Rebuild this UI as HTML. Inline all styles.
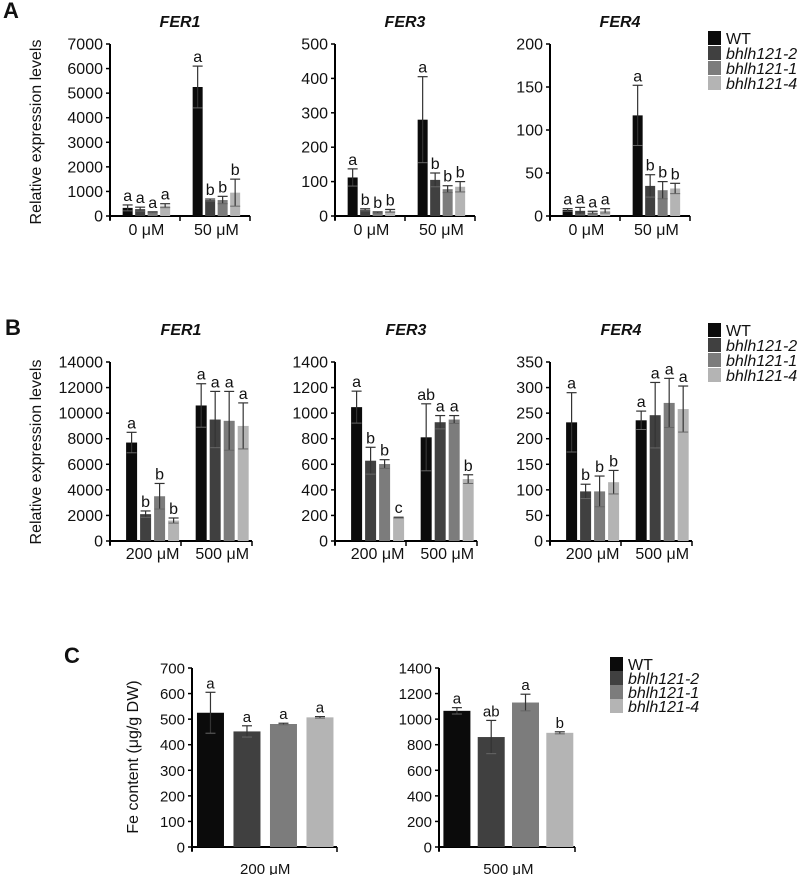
<!DOCTYPE html>
<html><head><meta charset="utf-8"><style>
html,body{margin:0;padding:0;background:#fff;}
svg{display:block;font-family:"Liberation Sans",Arial,sans-serif;}
</style></head><body>
<svg id="fig" width="800" height="875" viewBox="0 0 800 875" xmlns="http://www.w3.org/2000/svg"></svg>
<script>
// ---- data ----
const genotypes = ['WT','bhlh121-2','bhlh121-1','bhlh121-4'];
const colors = ['#0b0b0b','#404040','#7c7c7c','#b4b4b4'];
const groupsA = ['0 μM','50 μM'];
const groupsB = ['200 μM','500 μM'];
const groupsC1 = ['200 μM'];
const groupsC2 = ['500 μM'];

const aFer1Vals = [[330,280,150,420],[5250,650,650,950]];
const aFer1Err  = [[120,80,20,80],[850,40,150,550]];
const aFer1Let  = [['a','a','a','a'],['a','b','b','b']];
const aFer1Ticks = [0,1000,2000,3000,4000,5000,6000,7000];

const aFer3Vals = [[112,18,10,15],[280,105,78,85]];
const aFer3Err  = [[25,3,2,4],[125,20,10,15]];
const aFer3Let  = [['a','b','b','b'],['a','b','b','b']];
const aFer3Ticks = [0,100,200,300,400,500];

const aFer4Vals = [[7,6,4,6],[117,35,30,32]];
const aFer4Err  = [[1.5,4,1.5,2.5],[35,13,10,6]];
const aFer4Let  = [['a','a','a','a'],['a','b','b','b']];
const aFer4Ticks = [0,50,100,150,200];

const bFer1Vals = [[7700,2100,3500,1600],[10600,9500,9400,9000]];
const bFer1Err  = [[800,250,1000,200],[1700,2200,2300,1800]];
const bFer1Let  = [['a','b','b','b'],['a','a','a','a']];
const bFer1Ticks = [0,2000,4000,6000,8000,10000,12000,14000];

const bFer3Vals = [[1047,628,602,183],[811,929,950,484]];
const bFer3Err  = [[125,105,34,3],[262,52,31,34]];
const bFer3Let  = [['a','b','b','c'],['ab','a','a','b']];
const bFer3Ticks = [0,200,400,600,800,1000,1200,1400];

const bFer4Vals = [[232,97,97,115],[236,246,270,258]];
const bFer4Err  = [[58,14,30,23],[18,64,48,45]];
const bFer4Let  = [['a','b','b','b'],['a','a','a','a']];
const bFer4Ticks = [0,50,100,150,200,250,300,350];

const c200Vals = [[525,452,481,507]];
const c200Err  = [[80,22,3,3]];
const c200Let  = [['a','a','a','a']];
const c200Ticks = [0,100,200,300,400,500,600,700];

const c500Vals = [[1065,860,1130,893]];
const c500Err  = [[25,130,65,8]];
const c500Let  = [['a','ab','a','b']];
const c500Ticks = [0,200,400,600,800,1000,1200,1400];

// ---- drawing ----
const NS='http://www.w3.org/2000/svg';
const svg=document.getElementById('fig');
function mk(tag,attrs,parent){const e=document.createElementNS(NS,tag);for(const k in attrs)e.setAttribute(k,attrs[k]);(parent||svg).appendChild(e);return e;}
function txt(s,attrs,parent){const e=mk('text',attrs,parent);e.textContent=s;return e;}

function chart(cfg,name){
  const g=mk('g',{});
  
  
  const fs=cfg.fs||16;
  const max=cfg.ticks[cfg.ticks.length-1];
  const y=v=>cfg.base-(v/max)*(cfg.base-cfg.top);
  const x0=cfg.ax, x1=cfg.ax+cfg.w;
  const ya=mk('line',{x1:x0,y1:cfg.top,x2:x0,y2:cfg.base+4,stroke:'#000','stroke-width':2},g);
  
  
  cfg.ticks.forEach(t=>{
    mk('line',{x1:x0-4,y1:y(t),x2:x0,y2:y(t),stroke:'#000','stroke-width':1.5},g);
    const tl=txt(String(t),{x:x0-7,y:y(t)+5.5,'text-anchor':'end','font-size':fs,fill:'#111'},g);
    
    
  });
  const xa=mk('line',{x1:x0,y1:cfg.base,x2:x1,y2:cfg.base,stroke:'#000','stroke-width':2},g);
  
  
  const ng=cfg.groups.length;
  for(let k=0;k<=ng;k++){
    const tx=x0+cfg.w*k/ng;
    mk('line',{x1:tx,y1:cfg.base,x2:tx,y2:cfg.base+5,stroke:'#000','stroke-width':1.5},g);
  }
  cfg.groups.forEach((gl,gi)=>{
    const cx=x0+cfg.w*cfg.centers[gi];
    const lab=txt(gl,{x:cx,y:cfg.lblY,'text-anchor':'middle','font-size':fs,fill:'#111'},g);
    
    
    cfg.vals[gi].forEach((v,i)=>{
      const bx=cx+(i-1.5)*cfg.step-cfg.bw/2;
      const r=mk('rect',{x:bx,y:y(v),width:cfg.bw,height:cfg.base-y(v),fill:colors[i]},g);
      
      
      const e=cfg.err[gi][i];
      const bc=bx+cfg.bw/2, hw=Math.min(5,cfg.bw/2);
      mk('line',{x1:bc,y1:y(v+e),x2:bc,y2:y(Math.max(0,v-e)),stroke:'#333','stroke-width':1.2},g);
      mk('line',{x1:bc-hw,y1:y(v+e),x2:bc+hw,y2:y(v+e),stroke:'#333','stroke-width':1.2},g);
      mk('line',{x1:bc-hw,y1:y(Math.max(0,v-e)),x2:bc+hw,y2:y(Math.max(0,v-e)),stroke:'#666','stroke-width':1},g);
      const lt=txt(cfg.lets[gi][i],{x:bc,y:y(v+e)-4,'text-anchor':'middle','font-size':fs,fill:'#111'},g);
      
      
    });
  });
  if(cfg.title){
    const t=txt(cfg.title,{x:x0+cfg.w/2,y:cfg.titleY,'text-anchor':'middle','font-size':16,'font-weight':'bold','font-style':'italic',fill:'#111'},g);
    
    
  }
}
function legend(x,y0,dy,name){
  const g=mk('g',{});
  
  
  genotypes.forEach((gn,i)=>{
    const cy=y0+i*dy;
    mk('rect',{x:x,y:cy-7,width:13,height:14,fill:colors[i]},g);
    const t=txt(gn,{x:x+18,y:cy+6,'font-size':16,'font-style':i?'italic':'normal',fill:'#111'},g);
    
    
  });
}
function label(s,x,y,size){const t=txt(s,{x:x,y:y,'font-size':size,'font-weight':'bold',fill:'#111'});}
function ylab(s,x,cy,name,fs){const t=txt(s,{x:x,y:cy,'text-anchor':'middle','font-size':fs||16,fill:'#111',transform:'rotate(-90 '+x+' '+cy+')'});}

const A={top:44,base:216,w:140,bw:10,step:12.5,centers:[0.26,0.76],groups:groupsA,lblY:235,titleY:27};
chart(Object.assign({},A,{ax:110,title:'FER1',ticks:aFer1Ticks,vals:aFer1Vals,err:aFer1Err,lets:aFer1Let}),'chart-a-fer1');
chart(Object.assign({},A,{ax:335,title:'FER3',ticks:aFer3Ticks,vals:aFer3Vals,err:aFer3Err,lets:aFer3Let}),'chart-a-fer3');
chart(Object.assign({},A,{ax:550,title:'FER4',ticks:aFer4Ticks,vals:aFer4Vals,err:aFer4Err,lets:aFer4Let}),'chart-a-fer4');
legend(708,38,15,'legend-a');
label('A',3,18,22);
ylab('Relative expression levels',41,132,'y-axis-title-a');

const B={top:362,base:541,w:142,bw:11,step:14,centers:[0.3,0.79],groups:groupsB,lblY:559,titleY:335};
chart(Object.assign({},B,{ax:110,title:'FER1',ticks:bFer1Ticks,vals:bFer1Vals,err:bFer1Err,lets:bFer1Let}),'chart-b-fer1');
chart(Object.assign({},B,{ax:335,title:'FER3',ticks:bFer3Ticks,vals:bFer3Vals,err:bFer3Err,lets:bFer3Let}),'chart-b-fer3');
chart(Object.assign({},B,{ax:550,title:'FER4',ticks:bFer4Ticks,vals:bFer4Vals,err:bFer4Err,lets:bFer4Let}),'chart-b-fer4');
legend(708,330,15,'legend-b');
label('B',5,335,22);
ylab('Relative expression levels',41,452,'y-axis-title-b');

chart({ax:192,w:145,top:668,base:847,bw:27,step:36.5,centers:[0.505],groups:groupsC1,lblY:874,ticks:c200Ticks,vals:c200Vals,err:c200Err,lets:c200Let,fs:15},'chart-c-200');
chart({ax:439,w:136,top:668,base:847,bw:27,step:34.3,centers:[0.51],groups:groupsC2,lblY:874,ticks:c500Ticks,vals:c500Vals,err:c500Err,lets:c500Let,fs:15},'chart-c-500');
legend(610,664,14,'legend-c');
label('C',64,663,22);
ylab('Fe content (μg/g DW)',138,757,'y-axis-title-c',16);
</script>
</body></html>
